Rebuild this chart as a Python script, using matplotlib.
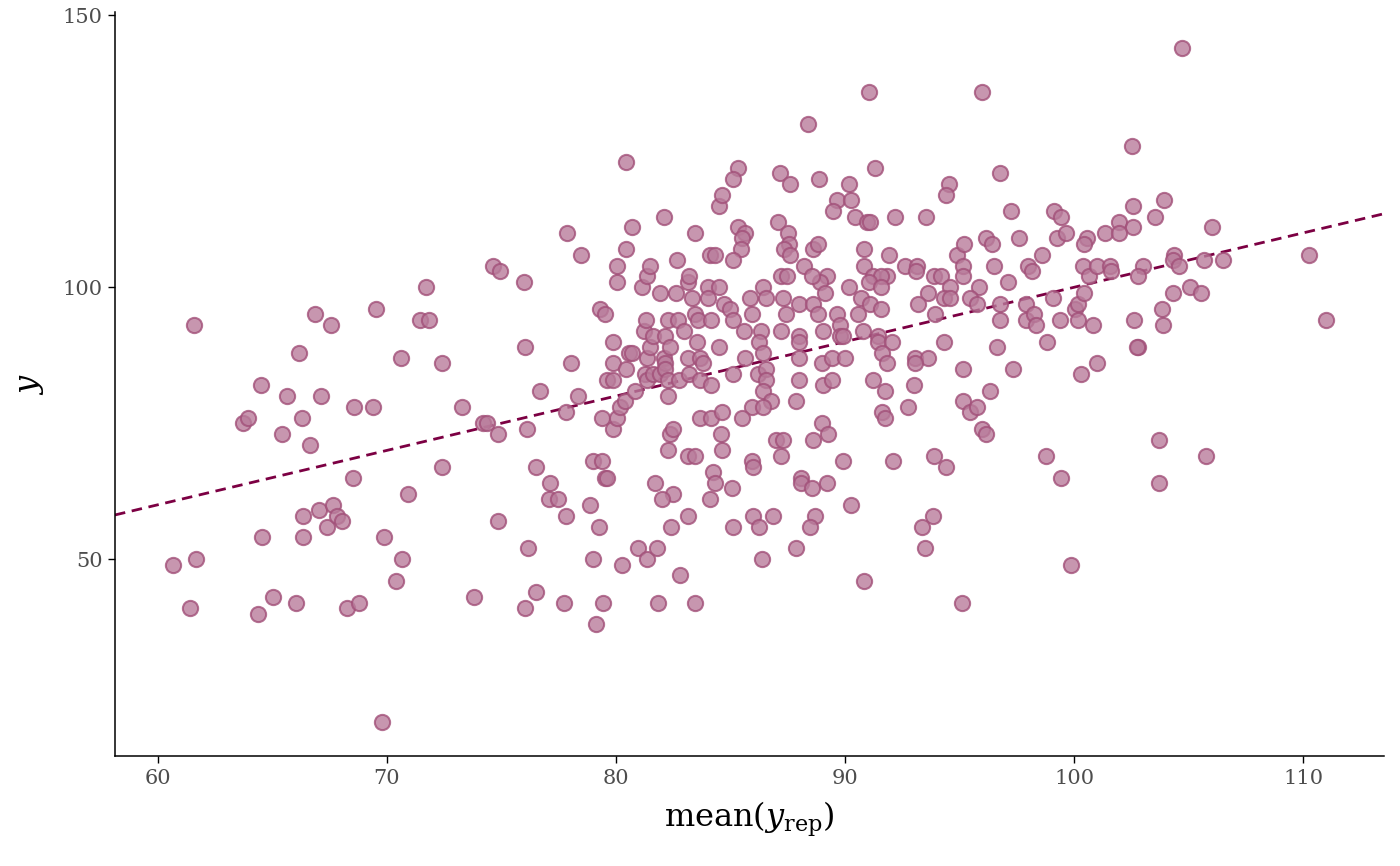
import matplotlib
matplotlib.use("Agg")
import matplotlib.pyplot as plt

mean_yrep = [
    60.65, 61.56, 61.39, 61.69, 63.74, 63.96, 64.52, 64.57, 64.39, 65.04,
    65.44, 65.66, 66.05, 66.18, 66.31, 66.35, 66.35, 66.66, 66.88, 67.14,
    67.05, 67.40, 67.57, 67.66, 67.83, 68.06, 68.27, 68.53, 68.58, 68.79,
    69.41, 69.54, 69.80, 69.89, 70.42, 70.63, 70.68, 70.94, 71.43, 71.73,
    71.82,
    72.39, 72.39, 73.30, 73.79, 74.18, 74.39, 74.65, 74.87, 74.87, 74.96,
    75.97, 76.01, 76.10, 76.14, 76.01, 76.53, 76.70, 76.53, 77.14, 77.09,
    77.49, 77.84, 77.88, 77.84, 77.75, 78.06, 78.36, 78.49, 78.85, 78.98,
    79.41, 79.02, 79.15, 79.24, 79.32, 79.54, 79.41, 79.54, 79.63, 79.45,
    79.63, 79.89, 79.89, 79.89, 79.89, 80.06, 80.06, 80.06, 80.19, 80.41,
    80.28, 80.45, 80.45, 80.45, 80.58, 80.71, 80.71, 80.84, 80.97, 81.15,
    81.24, 81.29, 81.33, 81.37, 81.50, 81.37, 81.37, 81.37, 81.50, 81.63,
    81.63, 81.72, 81.81, 81.85, 81.94, 82.08, 82.08, 81.94, 82.16, 82.16,
    82.16, 82.29, 82.29, 82.29, 82.29, 82.38, 82.38, 82.47, 82.47, 82.03,
    82.42, 82.61, 82.65, 82.69, 82.74, 82.78, 82.95, 83.13, 83.17, 83.13,
    83.13, 83.13, 83.21, 83.34, 83.43, 83.43, 83.47, 83.60, 83.47, 83.56,
    83.65, 83.69, 83.69, 83.82, 84.00, 84.00, 84.09, 84.31, 84.13, 84.13,
    84.13, 84.09, 84.22, 84.31, 84.48, 84.65, 84.48, 84.52, 84.61, 84.57,
    84.65,
    91.03, 96.00, 88.40, 85.31, 85.13, 87.15, 87.58, 88.88, 90.19, 91.29,
    96.78, 94.56, 94.43, 89.66, 90.28, 89.49, 90.42, 90.98, 91.11, 92.20,
    93.55, 97.26, 87.06, 87.49, 85.35, 85.65, 85.52, 85.44, 85.13, 87.54,
    87.32, 88.62, 88.84, 87.58, 88.19, 90.81, 91.94, 90.85, 92.63, 93.15,
    93.11, 93.90, 94.17, 94.91, 95.21, 95.17, 96.17, 96.43, 97.60, 96.52,
    98.00, 97.13, 95.87, 95.17, 94.60, 93.63, 90.16, 89.23, 88.92, 88.58,
    87.19, 87.45, 86.41, 91.24, 91.85, 91.55, 89.14, 91.03, 91.55, 85.87,
    86.54, 87.28, 87.97, 88.62, 90.68, 91.07, 93.19, 94.30, 94.60, 95.47,
    95.78, 96.78, 97.91, 84.70, 85.00, 85.13, 85.96, 87.41, 88.84, 89.66,
    90.55, 91.55, 93.93, 96.78, 97.91, 85.57, 86.32, 87.19, 89.05, 89.79,
    89.79, 90.77, 91.42, 86.24, 87.97, 87.97, 89.92, 91.46, 92.07, 94.30,
    96.65, 85.65, 86.41, 87.97, 89.01, 89.45, 90.01, 91.63, 91.85, 93.06,
    93.63, 93.06, 95.13, 97.34, 85.09, 86.19, 86.54, 86.54, 87.97, 89.05,
    89.45, 91.20, 91.76, 93.02, 96.35, 86.41, 86.76, 87.84, 85.96, 86.41,
    85.52, 91.63, 91.76, 92.76, 95.17, 95.44, 95.78, 89.01, 89.27, 96.00,
    96.17, 86.97, 87.28, 88.62, 87.19, 85.96, 86.00, 89.92, 92.11, 93.89,
    94.39, 85.05, 88.06, 88.06, 88.58, 89.23, 90.24, 86.00, 86.84, 88.71,
    93.84, 85.09, 86.24, 88.49, 93.37, 86.37, 87.88, 90.85, 93.50, 95.09,
    104.69, 102.51, 103.91, 102.55, 103.55, 99.11, 99.41, 106.00, 101.94, 102.55,
    99.24, 99.63, 100.58, 100.45, 101.33, 101.94, 98.59, 98.18, 100.37, 100.63,
    101.02, 101.55, 101.63, 102.99, 102.81, 104.34, 104.30, 104.60, 105.65, 106.49,
    110.27, 98.23, 98.33, 99.07, 98.81, 99.37, 100.06, 100.15, 100.45, 100.15,
    100.84, 101.02, 100.28, 102.60, 102.77, 102.73, 103.82, 103.87, 104.30, 105.08,
    105.52, 111.01, 103.69, 105.74, 98.76, 99.41, 103.69, 99.85,
]

kid_score = [
    49, 93, 41, 50, 75, 76, 82, 54, 40, 43,
    73, 80, 42, 88, 76, 58, 54, 71, 95, 80,
    59, 56, 93, 60, 58, 57, 41, 65, 78, 42,
    78, 96, 20, 54, 46, 87, 50, 62, 94, 100,
    94,
    86, 67, 78, 43, 75, 75, 104, 73, 57, 103,
    101, 89, 74, 52, 41, 67, 81, 44, 64, 61,
    61, 77, 110, 58, 42, 86, 80, 106, 60, 68,
    68, 50, 38, 56, 96, 95, 76, 65, 65, 42,
    83, 90, 86, 83, 74, 76, 101, 104, 78, 79,
    49, 85, 123, 107, 88, 88, 111, 81, 52, 100,
    92, 84, 94, 102, 104, 87, 83, 50, 89, 91,
    84, 64, 52, 42, 99, 113, 87, 84, 91, 86,
    85, 94, 83, 80, 70, 89, 73, 74, 62, 61,
    56, 99, 105, 94, 83, 47, 92, 87, 84, 69,
    58, 101, 102, 98, 110, 42, 95, 94, 69, 90,
    76, 87, 83, 86, 100, 98, 106, 106, 94, 82,
    76, 61, 66, 64, 115, 117, 89, 100, 77, 73,
    70,
    136, 136, 130, 122, 120, 121, 119, 120, 119, 122,
    121, 119, 117, 116, 116, 114, 113, 112, 112, 113,
    113, 114, 112, 110, 111, 110, 109, 107, 105, 108,
    107, 107, 108, 106, 104, 107, 106, 104, 104, 104,
    103, 102, 102, 106, 108, 104, 109, 108, 109, 104,
    104, 101, 100, 102, 100, 99, 100, 102, 101, 102,
    102, 102, 100, 102, 102, 102, 99, 101, 100, 98,
    98, 98, 97, 97, 98, 97, 97, 98, 98, 98,
    97, 97, 97, 97, 96, 94, 95, 95, 95, 95,
    95, 96, 95, 94, 94, 92, 92, 92, 92, 93,
    91, 92, 91, 90, 91, 90, 91, 90, 90, 90,
    89, 87, 88, 87, 86, 87, 87, 88, 86, 87,
    87, 86, 85, 85, 84, 84, 85, 83, 83, 82,
    83, 83, 81, 82, 81, 81, 79, 79, 78, 78,
    76, 77, 76, 78, 79, 77, 78, 75, 73, 74,
    73, 72, 72, 72, 69, 68, 67, 68, 68, 69,
    67, 63, 65, 64, 63, 64, 60, 58, 58, 58,
    58, 56, 56, 56, 56, 50, 52, 46, 52, 42,
    144, 126, 116, 115, 113, 114, 113, 111, 112, 111,
    109, 110, 109, 108, 110, 110, 106, 103, 104, 102,
    104, 104, 103, 104, 102, 106, 105, 104, 105, 105,
    106, 95, 93, 98, 90, 94, 96, 97, 99, 94,
    93, 86, 84, 94, 89, 89, 96, 93, 99, 100,
    99, 94, 72, 69, 69, 65, 64, 49,
]

x_ticks = [60, 70, 80, 90, 100, 110]
y_ticks = [50, 100, 150]

plt.rcParams['font.family'] = ['DejaVu Serif']
plt.rcParams['mathtext.fontset'] = 'dejavuserif'

fig = plt.figure(figsize=(14, 8.66), dpi=100)
ax = fig.add_axes([0.0821, 0.127, 0.9065, 0.859])

# reference line y = x, under the points
ax.axline((60, 60), slope=1, color='#7c0043', lw=2.0, linestyle=(0, (3.8, 2.4)), zorder=1)

ax.scatter(mean_yrep, kid_score, s=120, facecolor='#b97c9b', edgecolor='#a25079',
           linewidths=1.5, alpha=0.8, zorder=2)

ax.set_xlim(58.13, 113.53)
ax.set_ylim(13.8, 150.6)
ax.set_xticks(x_ticks)
ax.set_yticks(y_ticks)

for side in ['top', 'right']:
    ax.spines[side].set_visible(False)
for side in ['left', 'bottom']:
    ax.spines[side].set_linewidth(1.1)
    ax.spines[side].set_color('black')

ax.tick_params(axis='both', length=5, width=1.0, color='black',
               labelsize=15, labelcolor='#4d4d4d', pad=4)

ax.set_xlabel(r'mean($y_{\mathrm{rep}}$)', fontsize=23, labelpad=9)
ax.set_ylabel(r'$y$', fontsize=23, labelpad=12)

fig.savefig('out.png', dpi=100)
